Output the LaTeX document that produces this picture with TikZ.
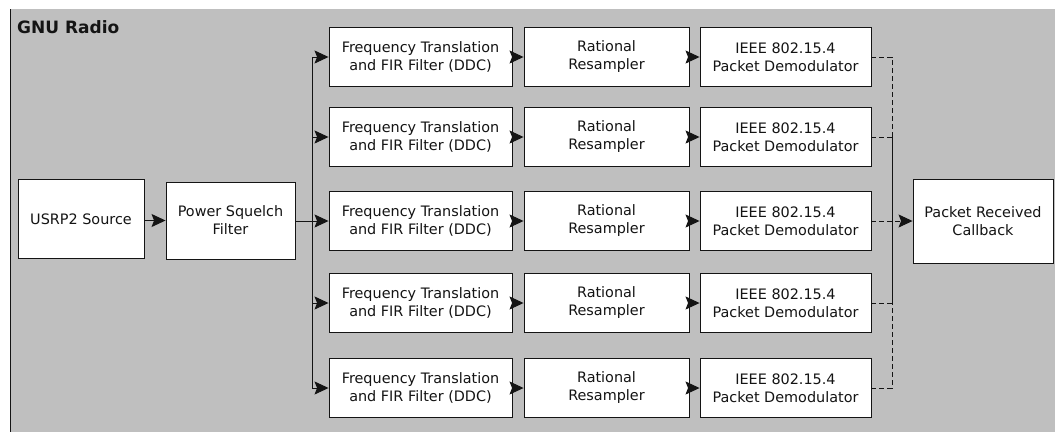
\documentclass[tikz,border=0pt]{standalone}
\usepackage{fontspec}
\setmainfont{DejaVu Sans}
\usetikzlibrary{arrows.meta,calc}
\definecolor{panel}{RGB}{191,191,191}
\definecolor{ink}{RGB}{20,20,20}
\tikzset{
  blk/.style={draw=ink, line width=0.9pt, fill=white, align=center,
    text=ink, inner sep=0pt, font=\fontsize{14.4}{18}\selectfont},
  conn/.style={draw=ink, line width=1pt, -{Stealth[length=14pt,width=13pt,inset=2.5pt]}},
  wire/.style={draw=ink, line width=1pt},
  dwire/.style={draw=ink, line width=1pt, dash pattern=on 5pt off 3pt},
}
\begin{document}
\begin{tikzpicture}[x=1pt,y=-1pt]
  \useasboundingbox (0,0) rectangle (1057,432);
  % grey panel with its left rule
  \fill[panel] (10,9) rectangle (1055,432);
  \draw[ink, line width=1.5pt] (10.5,9) -- (10.5,432);
  \node[anchor=base west, font=\fontsize{17}{20}\selectfont\bfseries, text=ink, inner sep=0pt] (title) at (17,33) {GNU Radio};

  % source chain
  \node[blk, minimum width=126pt, minimum height=79pt] (usrp) at (81,219) {USRP2 Source};
  \node[blk, minimum width=129pt, minimum height=77pt] (psf) at (230.5,220.5) {Power Squelch\\Filter};

  % five parallel channels
  \foreach \i/\y in {1/57,2/137,3/221,4/303,5/388}{
    \node[blk, minimum width=183pt, minimum height=59pt] (f\i) at (420.5,\y) {Frequency Translation\\and FIR Filter (DDC)};
    \node[blk, minimum width=165pt, minimum height=59pt] (r\i) at (606.5,\y) {Rational\\Resampler};
    \node[blk, minimum width=171pt, minimum height=59pt] (d\i) at (785.5,\y) {IEEE 802.15.4\\Packet Demodulator};
    \draw[conn] (f\i) -- (r\i);
    \draw[conn] (r\i) -- (d\i);
  }

  \node[blk, minimum width=140pt, minimum height=84pt] (cb) at (983,221) {Packet Received\\Callback};

  % fan-out to the channels
  \draw[conn] (usrp.east |- psf) -- (psf);
  \coordinate (split) at (312,221);
  \draw[wire] (psf.east |- split) -- (split);
  \foreach \i in {1,...,5}{
    \draw[conn] (split) |- (f\i.west);
  }

  % fan-in to the callback
  \coordinate (m2) at (892,137);
  \coordinate (m4) at (892,303);
  \draw[dwire] (d1.east) -| (m2);
  \draw[dwire] (d2.east) -- (m2);
  \draw[dwire] (d4.east) -- (m4);
  \draw[dwire] (d5.east) -| (m4);
  \draw[wire] (m2) -- (m4);
  \draw[conn, dash pattern=on 5pt off 3pt] (d3.east) -- (cb.west);
\end{tikzpicture}
\end{document}
